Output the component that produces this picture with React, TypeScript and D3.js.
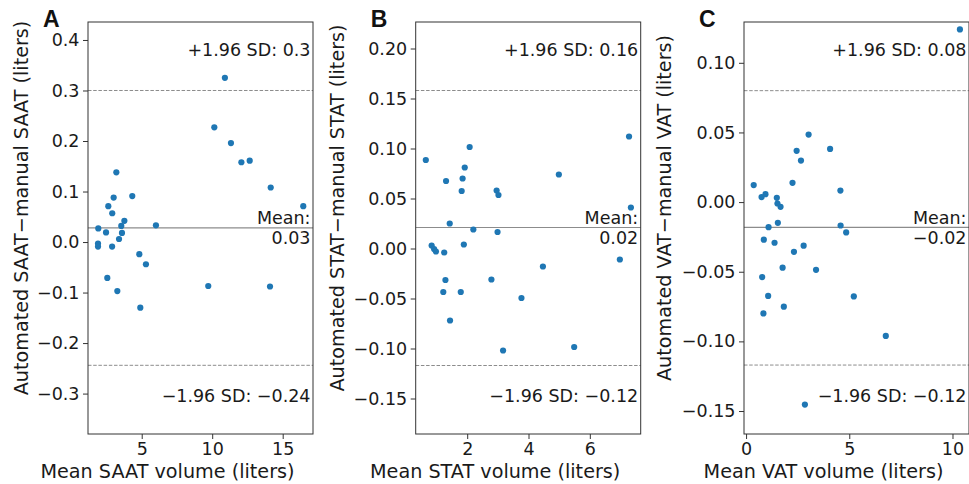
import { useEffect, useRef } from "react"
import * as d3 from "d3"

// panel A: SAAT
const saatMean = [10.9, 10.15, 11.33, 12.07, 12.66, 14.15, 16.46, 3.2, 4.33, 3.01, 2.63, 2.91, 3.77, 6.01, 3.55, 1.92, 2.47, 3.6, 3.39, 1.9, 1.9, 2.9, 4.83, 5.3, 2.56, 3.27, 4.9, 9.72, 14.1]
const saatDiff = [0.325, 0.227, 0.196, 0.158, 0.161, 0.108, 0.071, 0.138, 0.091, 0.088, 0.071, 0.057, 0.042, 0.033, 0.032, 0.027, 0.019, 0.018, 0.006, -0.003, -0.009, -0.009, -0.024, -0.044, -0.071, -0.097, -0.13, -0.087, -0.088]

// panel B: STAT
const statMean = [0.65, 2.08, 1.92, 1.31, 1.85, 1.82, 2.96, 3.02, 4.99, 7.28, 7.34, 1.43, 2.2, 2.99, 0.84, 1.89, 0.92, 0.98, 1.25, 6.98, 4.47, 1.29, 2.79, 1.22, 1.79, 3.77, 1.44, 3.17, 5.49]
const statDiff = [0.0885, 0.1015, 0.081, 0.0675, 0.07, 0.0575, 0.058, 0.0535, 0.074, 0.112, 0.041, 0.025, 0.019, 0.0165, 0.003, 0.004, -0.0005, -0.003, -0.004, -0.011, -0.018, -0.0315, -0.031, -0.0435, -0.0435, -0.0495, -0.072, -0.102, -0.0985]

// panel C: VAT
const vatMean = [10.36, 3.03, 2.45, 2.66, 4.07, 2.25, 0.37, 0.75, 0.94, 1.49, 1.52, 1.67, 4.57, 1.54, 1.09, 4.58, 4.85, 0.86, 1.38, 2.79, 2.32, 1.77, 3.39, 0.78, 1.07, 5.22, 1.83, 0.84, 6.77, 2.85]
const vatDiff = [0.124, 0.0485, 0.0368, 0.0298, 0.0382, 0.0138, 0.0122, 0.0036, 0.0057, 0.0031, -0.001, -0.0034, 0.0083, -0.0149, -0.018, -0.0168, -0.0218, -0.027, -0.0292, -0.0313, -0.0357, -0.0471, -0.0486, -0.0538, -0.0674, -0.0677, -0.0751, -0.0799, -0.0961, -0.1454]

const panelLetters = ["A", "B", "C"]
const tissues = ["SAAT", "STAT", "VAT"]
const meanDiffs = [0.028, 0.021, -0.0182]
const upperLoA = [0.3, 0.158, 0.08]
const lowerLoA = [-0.244, -0.117, -0.117]
const meanLabels = ["0.03", "0.02", "\u22120.02"]
const upperLabels = ["0.3", "0.16", "0.08"]
const lowerLabels = ["\u22120.24", "\u22120.12", "\u22120.12"]
const xTicks = [[5, 10, 15], [2, 4, 6], [0, 5, 10]]
const yTicks = [
    [-0.3, -0.2, -0.1, 0, 0.1, 0.2, 0.3, 0.4],
    [-0.15, -0.1, -0.05, 0, 0.05, 0.1, 0.15, 0.2],
    [-0.15, -0.1, -0.05, 0, 0.05, 0.1],
]
const yDecimals = [1, 2, 2]
const xDomains = [[1.19, 17.15], [0.32, 7.66], [-0.1, 10.8]]
const yDomains = [[-0.38, 0.4356], [-0.1855, 0.2265], [-0.1665, 0.1293]]

const FONT = "DejaVu Sans, sans-serif"
const FS = 17.5 // ticks and annotations
const LFS = 19.2 // axis titles
const DOT = "#1f77b4"
const INK = "#1a1a1a"

export default function App() {
    const ref = useRef<SVGSVGElement | null>(null)

    useEffect(() => {
        const svg = d3.select(ref.current)
        svg.selectAll("*").remove()

        const width = 969
        const height = 484
        const top = 22
        const bottom = 434
        const lefts = [88, 415.7, 744]
        const plotW = 225

        const xs = [saatMean, statMean, vatMean]
        const ys = [saatDiff, statDiff, vatDiff]

        svg.append("rect").attr("width", width).attr("height", height).attr("fill", "white")

        lefts.forEach((left, i) => {
            const right = left + plotW
            const x = d3.scaleLinear().domain(xDomains[i]).range([left, right])
            const y = d3.scaleLinear().domain(yDomains[i]).range([bottom, top])
            const g = svg.append("g")

            // reference lines
            g.append("line")
                .attr("x1", left).attr("x2", right)
                .attr("y1", y(meanDiffs[i])).attr("y2", y(meanDiffs[i]))
                .attr("stroke", "#8c8c8c").attr("stroke-width", 1.2)
            ;[upperLoA[i], lowerLoA[i]].forEach(v => {
                g.append("line")
                    .attr("x1", left).attr("x2", right)
                    .attr("y1", y(v)).attr("y2", y(v))
                    .attr("stroke", "#8c8c8c").attr("stroke-width", 1)
                    .attr("stroke-dasharray", "3.5,1.7")
            })

            // points
            g.append("g")
                .selectAll("circle")
                .data(xs[i].map((v, k) => [v, ys[i][k]]))
                .join("circle")
                    .attr("cx", d => x(d[0]))
                    .attr("cy", d => y(d[1]))
                    .attr("r", 3.1)
                    .attr("fill", DOT)

            // axes
            const fmt = d3.format(`.${yDecimals[i]}f`)
            const yAxis = g.append("g")
                .attr("transform", `translate(${left},0)`)
                .call(d3.axisLeft(y).tickValues(yTicks[i]).tickSize(5).tickPadding(3.5)
                    .tickFormat(d => fmt(d as number).replace("-", "\u2212")))
            const xAxis = g.append("g")
                .attr("transform", `translate(0,${bottom})`)
                .call(d3.axisBottom(x).tickValues(xTicks[i]).tickSize(5).tickPadding(3.5)
                    .tickFormat(d3.format("d")))
            ;[xAxis, yAxis].forEach(a => {
                a.select(".domain").remove()
                a.selectAll("line").attr("stroke", "#333")
                a.selectAll("text").attr("font-size", FS).attr("font-family", FONT).attr("fill", INK)
            })

            // frame
            g.append("rect")
                .attr("x", left).attr("y", top)
                .attr("width", plotW).attr("height", bottom - top)
                .attr("fill", "none").attr("stroke", "#333").attr("stroke-width", 1)

            // annotations
            const tx = right - 2.5
            const ann = g.append("g")
                .attr("font-family", FONT).attr("font-size", FS)
                .attr("fill", INK).attr("text-anchor", "end")
            ann.append("text").attr("x", tx).attr("y", 55.7).text(`+1.96 SD: ${upperLabels[i]}`)
            ann.append("text").attr("x", tx).attr("y", 223.5).text("Mean:")
            ann.append("text").attr("x", tx).attr("y", 243.5).text(meanLabels[i])
            ann.append("text").attr("x", tx).attr("y", 401.5).text(`\u22121.96 SD: ${lowerLabels[i]}`)

            // axis titles
            g.append("text")
                .attr("x", (left + right) / 2 - 33).attr("y", 478)
                .attr("text-anchor", "middle")
                .attr("font-family", FONT).attr("font-size", LFS).attr("fill", INK)
                .text(`Mean ${tissues[i]} volume (liters)`)
            const yLabelX = [28, 344, 671][i]
            g.append("text")
                .attr("transform", `translate(${yLabelX},208)rotate(-90)`)
                .attr("text-anchor", "middle")
                .attr("font-family", FONT).attr("font-size", LFS).attr("fill", INK)
                .text(`Automated ${tissues[i]}\u2212manual ${tissues[i]} (liters)`)

            // panel letter
            g.append("text")
                .attr("x", [43, 370.7, 699][i]).attr("y", 26.7)
                .attr("font-family", "Liberation Sans, Arial, sans-serif")
                .attr("font-weight", "bold").attr("font-size", 23)
                .attr("fill", "#111")
                .text(panelLetters[i])
        })
    }, [])

    return (
        <svg ref={ref} width={969} height={484}
            style={{ position: "absolute", left: 0, top: 0, display: "block" }} />
    )
}
